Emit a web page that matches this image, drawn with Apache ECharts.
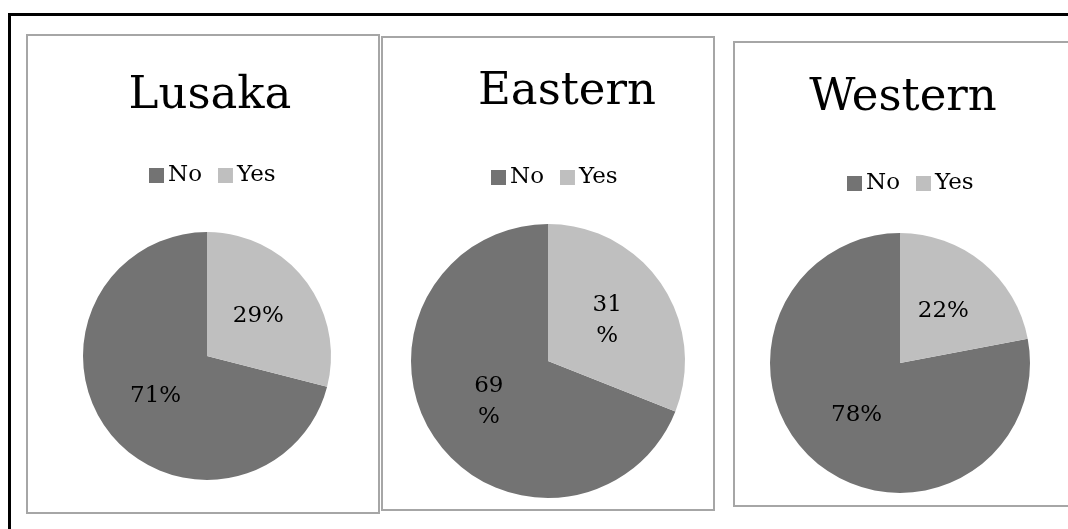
<!DOCTYPE html>
<html>
<head>
<meta charset="utf-8">
<script src="https://cdn.jsdelivr.net/npm/echarts@6/dist/echarts.min.js"></script>
<style>
  html, body { margin: 0; padding: 0; background: #fff; }
  #container { width: 1068px; height: 529px; }
</style>
</head>
<body>
<div id="container"></div>
<script>
// values
const regions = ['Lusaka', 'Eastern', 'Western'];
const answers = ['No', 'Yes'];
const noPct = [71, 69, 78];
const yesPct = [29, 31, 22];

// where each little chart sits
const panels = [
  { box: [27, 35, 352, 478], center: [207, 356], radius: 124, titleX: 205, titleTop: 69, legendX: 144, legendTop: 159, wrap: false },
  { box: [382, 37, 332, 473], center: [548, 361], radius: 137, titleX: 562, titleTop: 65, legendX: 486, legendTop: 161, wrap: true },
  { box: [734, 42, 345, 464], center: [900, 363], radius: 130, titleX: 898, titleTop: 71, legendX: 842, legendTop: 167, wrap: false }
];

const dark = '#737373';
const light = '#bfbfbf';
const serif = '"DejaVu Serif", serif';

let dom = document.getElementById('container');
let myChart = echarts.init(dom);

let titles = [];
let legends = [];
let series = [];
let graphics = [];

// outer black frame (runs off the right and bottom)
graphics.push({
  type: 'rect',
  shape: { x: 9.5, y: 14.5, width: 1100, height: 560 },
  style: { fill: 'none', stroke: '#000', lineWidth: 3 },
  z: 1
});

for (let i = 0; i < regions.length; i++) {
  let p = panels[i];
  graphics.push({
    type: 'rect',
    shape: { x: p.box[0], y: p.box[1], width: p.box[2], height: p.box[3] },
    style: { fill: '#fff', stroke: '#a6a6a6', lineWidth: 2 },
    z: 2
  });
  titles.push({
    text: regions[i],
    left: p.titleX,
    top: p.titleTop,
    textAlign: 'center',
    textStyle: { fontFamily: serif, fontSize: 45, fontWeight: 'normal', color: '#000' }
  });
  legends.push({
    data: answers,
    left: p.legendX,
    top: p.legendTop,
    itemWidth: 15,
    itemHeight: 15,
    itemGap: 16,
    icon: 'rect',
    selectedMode: false,
    textStyle: { fontFamily: serif, fontSize: 23, color: '#000', padding: [0, 0, 0, -1] }
  });
  series.push({
    type: 'pie',
    name: regions[i],
    center: p.center,
    radius: p.radius,
    startAngle: 90,
    clockwise: false,
    silent: true,
    animation: false,
    itemStyle: { borderWidth: 0 },
    label: {
      show: true,
      position: 'inside',
      fontFamily: serif,
      fontSize: 23,
      color: '#000',
      lineHeight: 31,
      formatter: p.wrap ? '{c}\n%' : '{c}%'
    },
    labelLine: { show: false },
    data: [
      { name: answers[0], value: noPct[i], itemStyle: { color: dark } },
      { name: answers[1], value: yesPct[i], itemStyle: { color: light } }
    ]
  });
}

let option = {
  backgroundColor: '#fff',
  animation: false,
  color: [dark, light],
  title: titles,
  legend: legends,
  graphic: { elements: graphics },
  series: series
};

myChart.setOption(option);
</script>
</body>
</html>
